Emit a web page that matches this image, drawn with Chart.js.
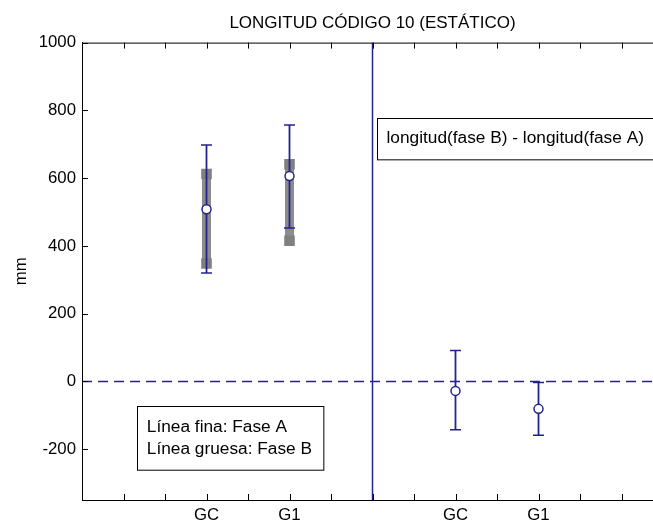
<!DOCTYPE html>
<html>
<head>
<meta charset="utf-8">
<script src="https://cdn.jsdelivr.net/npm/chart.js@4"></script>
<style>
  html, body { margin: 0; padding: 0; overflow: hidden; background: #fff; }
</style>
</head>
<body>
<canvas id="grafico" width="745" height="525"></canvas>
<script>
// datos (mm)
const posX = [3, 5, 9, 11];
const etiquetas = ['GC', 'G1', 'GC', 'G1'];
const faseA_min = [320, 453, -143, -159];   // linea fina
const faseA_max = [698, 757, 91, -3];
const centros = [508, 606, -28, -81];
const faseB_min = [348, 415];               // linea gruesa (solo GC y G1 de la izquierda)
const faseB_max = [612, 641];
const xTicks = [1, 2, 3, 4, 5, 6, 7, 8, 9, 10, 11, 12, 13];
const yTicks = [-200, 0, 200, 400, 600, 800, 1000];
const separador = 7;

const azul = '#23238f';
const gris = '#8c8c8c';
const fuente = { family: "'Liberation Sans', Arial, sans-serif", size: 16.8 };

const datasets = [];

// puntos centrales
datasets.push({
  data: posX.map((x, i) => ({ x: x, y: centros[i] })),
  showLine: false,
  pointStyle: 'circle',
  pointRadius: 4.5,
  pointBackgroundColor: '#fff',
  pointBorderColor: azul,
  pointBorderWidth: 1.5
});

// fase A: barras finas
posX.forEach((x, i) => {
  datasets.push({
    data: [{ x: x, y: faseA_min[i] }, { x: x, y: faseA_max[i] }],
    showLine: true,
    borderColor: azul,
    borderWidth: 1.8,
    pointStyle: 'line',
    pointRadius: 5.5,
    pointBorderColor: azul,
    pointBorderWidth: 1.5
  });
});

// fase B: barras gruesas
faseB_min.forEach((v, i) => {
  datasets.push({
    data: [{ x: posX[i], y: v }, { x: posX[i], y: faseB_max[i] }],
    showLine: true,
    borderColor: gris,
    borderWidth: 9,
    pointStyle: 'rect',
    pointRadius: 7.5,
    pointBackgroundColor: '#808080',
    pointBorderWidth: 0
  });
});

// linea vertical separadora
datasets.push({
  data: [{ x: separador, y: -350 }, { x: separador, y: 1000 }],
  showLine: true,
  borderColor: azul,
  borderWidth: 1.5,
  pointRadius: 0
});

// linea de cero discontinua
datasets.push({
  data: [{ x: 0, y: 0 }, { x: 14, y: 0 }],
  showLine: true,
  borderColor: azul,
  borderWidth: 1.5,
  borderDash: [10, 6],
  pointRadius: 0
});

// marco, ticks interiores y cuadros de texto
const extras = {
  id: 'extras',
  afterDraw(chart) {
    const { ctx, chartArea: a, scales: { x, y } } = chart;
    ctx.save();
    ctx.strokeStyle = '#000';
    ctx.lineWidth = 1;
    ctx.strokeRect(a.left + 0.5, a.top + 0.5, a.right - a.left, a.bottom - a.top);

    ctx.beginPath();
    xTicks.forEach(v => {
      const px = Math.round(x.getPixelForValue(v)) + 0.5;
      ctx.moveTo(px, a.bottom); ctx.lineTo(px, a.bottom - 6);
      ctx.moveTo(px, a.top); ctx.lineTo(px, a.top + 6);
    });
    yTicks.forEach(v => {
      const py = Math.round(y.getPixelForValue(v)) + 0.5;
      ctx.moveTo(a.left, py); ctx.lineTo(a.left + 6, py);
      ctx.moveTo(a.right, py); ctx.lineTo(a.right - 6, py);
    });
    ctx.stroke();

    ctx.font = "17.3px 'Liberation Sans', Arial, sans-serif";
    ctx.fillStyle = '#000';
    ctx.textBaseline = 'middle';

    // cuadro 1
    let l = x.getPixelForValue(7.12), r = x.getPixelForValue(14);
    let t = y.getPixelForValue(778), b = y.getPixelForValue(656);
    ctx.fillStyle = '#fff';
    ctx.fillRect(l, t, r - l, b - t);
    ctx.strokeRect(Math.round(l) + 0.5, Math.round(t) + 0.5, r - l, b - t);
    ctx.fillStyle = '#000';
    ctx.fillText('longitud(fase B) - longitud(fase A)', l + 9, (t + b) / 2);

    // cuadro 2
    l = x.getPixelForValue(1.32); r = x.getPixelForValue(5.81);
    t = y.getPixelForValue(-74); b = y.getPixelForValue(-262);
    ctx.fillStyle = '#fff';
    ctx.fillRect(l, t, r - l, b - t);
    ctx.strokeRect(Math.round(l) + 0.5, Math.round(t) + 0.5, r - l, b - t);
    ctx.fillStyle = '#000';
    ctx.fillText('Línea fina: Fase A', l + 10, (t + b) / 2 - 11);
    ctx.fillText('Línea gruesa: Fase B', l + 10, (t + b) / 2 + 11);
    ctx.restore();
  }
};

new Chart(document.getElementById('grafico'), {
  type: 'scatter',
  data: { datasets: datasets },
  plugins: [extras],
  options: {
    responsive: false,
    animation: false,
    devicePixelRatio: 1,
    layout: { padding: 0 },
    plugins: {
      legend: { display: false },
      tooltip: { enabled: false },
      title: {
        display: true,
        text: 'LONGITUD CÓDIGO 10 (ESTÁTICO)',
        color: '#000',
        font: { family: fuente.family, size: 17, weight: 'normal' },
        padding: { top: 13, bottom: 9.2 }
      }
    },
    scales: {
      x: {
        type: 'linear',
        min: 0,
        max: 14,
        afterBuildTicks: s => { s.ticks = xTicks.map(v => ({ value: v })); },
        afterFit: s => { s.height = 25; },
        grid: { display: false, drawTicks: false },
        border: { display: true, color: '#000' },
        ticks: {
          autoSkip: false,
          maxRotation: 0,
          padding: 5,
          color: '#000',
          font: fuente,
          callback: v => {
            const i = posX.indexOf(v);
            return i >= 0 ? etiquetas[i] : '';
          }
        }
      },
      y: {
        min: -350,
        max: 1000,
        afterBuildTicks: s => { s.ticks = yTicks.map(v => ({ value: v })); },
        afterFit: s => { s.width = 82; },
        grid: { display: false, drawTicks: false },
        border: { display: true, color: '#000' },
        ticks: { padding: 6, color: '#000', font: fuente, callback: v => String(v) },
        title: {
          display: true,
          text: 'mm',
          color: '#000',
          font: fuente,
          padding: { top: 11, bottom: 0 }
        }
      },
      // eje derecho vacio, solo para dejar el margen simetrico
      y2: {
        position: 'right',
        min: -350,
        max: 1000,
        afterFit: s => { s.width = 82; },
        grid: { display: false, drawTicks: false },
        border: { display: false },
        ticks: { display: false }
      }
    }
  }
});
</script>
</body>
</html>
